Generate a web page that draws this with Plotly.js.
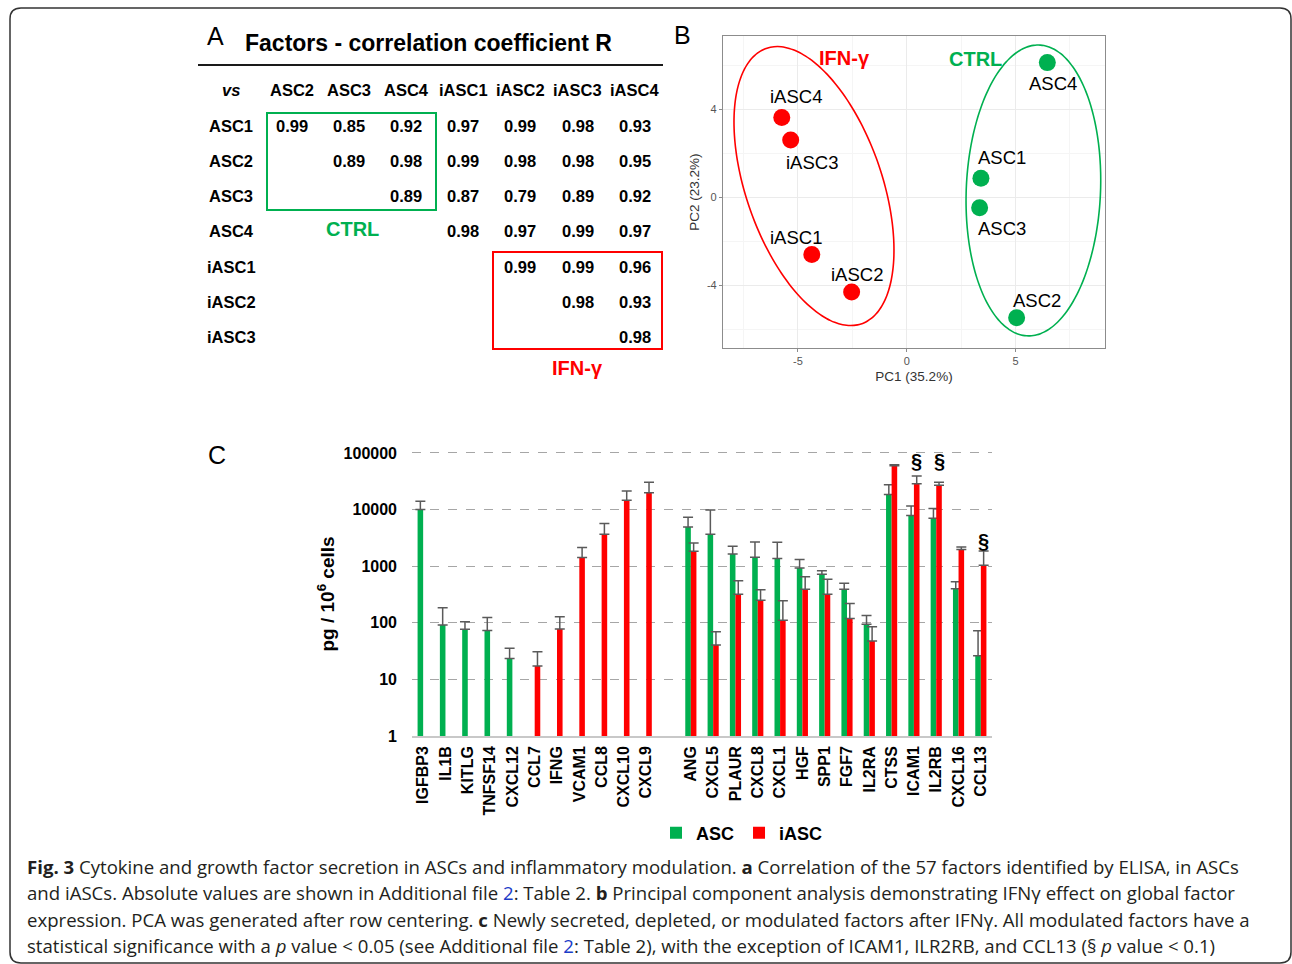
<!DOCTYPE html>
<html>
<head>
<meta charset="utf-8">
<script src="https://cdn.plot.ly/plotly-3.0.1.min.js"></script>
<style>html,body{margin:0;padding:0;background:#fff;}#chart{width:1292px;height:964px;}</style>
</head>
<body>
<div id="chart"></div>
<script>
// ---------------- DATA ----------------
// Panel C: secreted factors (pg / 10^6 cells)
const group1 = ['IGFBP3','IL1B','KITLG','TNFSF14','CXCL12','CCL7','IFNG','VCAM1','CCL8','CXCL10','CXCL9'];
const group2 = ['ANG','CXCL5','PLAUR','CXCL8','CXCL1','HGF','SPP1','FGF7','IL2RA','CTSS','ICAM1','IL2RB','CXCL16','CCL13'];
const spacer = ' ';
const ascG1  = [10000, 91, 77, 73, 23.5, null, null, null, null, null, null];
const ascG1Err = [4000, 93, 27, 51, 12, null, null, null, null, null, null];
const iascG1 = [null, null, null, null, null, 17.2, 78, 1420, 3670, 14600, 19900];
const iascG1Err = [null, null, null, null, null, 13.6, 50, 710, 1990, 6700, 10400];
const ascG2  = [4950, 3670, 1650, 1440, 1370, 934, 722, 393, 94, 18400, 7840, 7030, 398, 26.2];
const ascG2Err = [2380, 6190, 605, 1245, 1290, 378, 105, 108, 41, 9200, 3760, 3390, 131, 46];
const iascG2 = [1840, 40.4, 320, 251, 111, 393, 320, 119, 47.5, 59700, 28750, 26870, 1968, 1042];
const iascG2Err = [740, 29, 231, 131, 134, 256, 270, 100, 37.5, 2500, 10550, 3500, 227, 823];
const sigFactors = ['ICAM1', 'IL2RB', 'CCL13'];
const sigLogY = [4.86, 4.86, 3.445];
const yTickVals = [1, 10, 100, 1000, 10000, 100000];
const yTickText = ['1', '10', '100', '1000', '10000', '100000'];

// Panel B: PCA
const pcaCtrlNames = ['ASC1', 'ASC2', 'ASC3', 'ASC4'];
const pcaCtrlPC1 = [3.41, 5.05, 3.35, 6.46];
const pcaCtrlPC2 = [0.86, -5.49, -0.49, 6.11];
const pcaIfnNames = ['iASC1', 'iASC2', 'iASC3', 'iASC4'];
const pcaIfnPC1 = [-4.36, -2.53, -5.33, -5.74];
const pcaIfnPC2 = [-2.61, -4.32, 2.59, 3.62];
// Ellipse parameters (centre, half-width, half-height, phase)
const ellIfn  = {cx: -4.26, cy: 0.50, rx: 3.675, ry: 6.34, cosPhi: -0.459};
const ellCtrl = {cx: 5.82,  cy: 0.30, rx: 3.094, ry: 6.61, cosPhi: 0.071};

// Panel A: correlation table
const corrRows = ['ASC1', 'ASC2', 'ASC3', 'ASC4', 'iASC1', 'iASC2', 'iASC3'];
const corrCols = ['ASC2', 'ASC3', 'ASC4', 'iASC1', 'iASC2', 'iASC3', 'iASC4'];
const corrVals = [
  ['0.99', '0.85', '0.92', '0.97', '0.99', '0.98', '0.93'],
  [null,   '0.89', '0.98', '0.99', '0.98', '0.98', '0.95'],
  [null,   null,   '0.89', '0.87', '0.79', '0.89', '0.92'],
  [null,   null,   null,   '0.98', '0.97', '0.99', '0.97'],
  [null,   null,   null,   null,   '0.99', '0.99', '0.96'],
  [null,   null,   null,   null,   null,   '0.98', '0.93'],
  [null,   null,   null,   null,   null,   null,   '0.98']
];

const captionLines = [
  '<b>Fig. 3</b> Cytokine and growth factor secretion in ASCs and inflammatory modulation. <b>a</b> Correlation of the 57 factors identified by ELISA, in ASCs',
  'and iASCs. Absolute values are shown in Additional file <span style="color:#1a3cc8">2</span>: Table 2. <b>b</b> Principal component analysis demonstrating IFNγ effect on global factor',
  'expression. PCA was generated after row centering. <b>c</b> Newly secreted, depleted, or modulated factors after IFNγ. All modulated factors have a',
  'statistical significance with a <i>p</i> value &lt; 0.05 (see Additional file <span style="color:#1a3cc8">2</span>: Table 2), with the exception of ICAM1, ILR2RB, and CCL13 (§ <i>p</i> value &lt; 0.1)'
];

// ---------------- LAYOUT HELPERS ----------------
const W = 1292, H = 964;
const PX = x => x / W;
const PY = y => 1 - y / H;
const GREEN = '#00B050', RED = '#FF0000';
const FONT = 'Liberation Sans, Arial, Helvetica, sans-serif';

const categories = group1.concat([spacer], group2);
const ascVals = ascG1.concat([null], ascG2);
const ascErr = ascG1Err.concat([null], ascG2Err);
const iascVals = iascG1.concat([null], iascG2);
const iascErr = iascG1Err.concat([null], iascG2Err);

const errStyle = {color: '#5a5a5a', thickness: 1.5, width: 5};

const traces = [
  {type: 'bar', name: 'ASC', x: categories, y: ascVals, marker: {color: GREEN},
   error_y: Object.assign({type: 'data', array: ascErr, arrayminus: ascErr.map(() => 0), symmetric: false}, errStyle),
   xaxis: 'x', yaxis: 'y', hoverinfo: 'x+y'},
  {type: 'bar', name: 'iASC', x: categories, y: iascVals, marker: {color: RED},
   error_y: Object.assign({type: 'data', array: iascErr, arrayminus: iascErr.map(() => 0), symmetric: false}, errStyle),
   xaxis: 'x', yaxis: 'y', hoverinfo: 'x+y'}
];

function ellipseTrace(e, color) {
  const xs = [], ys = [];
  const phi = Math.acos(e.cosPhi);
  for (let i = 0; i <= 120; i++) {
    const t = 2 * Math.PI * i / 120;
    xs.push(e.cx + e.rx * Math.cos(t));
    ys.push(e.cy + e.ry * Math.cos(t + phi));
  }
  return {type: 'scatter', mode: 'lines', x: xs, y: ys, line: {color: color, width: 1.6, shape: 'spline'},
          xaxis: 'x2', yaxis: 'y2', showlegend: false, hoverinfo: 'skip'};
}
traces.push(ellipseTrace(ellIfn, RED));
traces.push(ellipseTrace(ellCtrl, GREEN));
traces.push({type: 'scatter', mode: 'markers', x: pcaIfnPC1, y: pcaIfnPC2, text: pcaIfnNames,
  marker: {color: RED, size: 17}, xaxis: 'x2', yaxis: 'y2', showlegend: false, hoverinfo: 'text'});
traces.push({type: 'scatter', mode: 'markers', x: pcaCtrlPC1, y: pcaCtrlPC2, text: pcaCtrlNames,
  marker: {color: GREEN, size: 17}, xaxis: 'x2', yaxis: 'y2', showlegend: false, hoverinfo: 'text'});

const annotations = [];
const shapes = [];

// Panel letters
[['A', 216, 36], ['B', 682, 35], ['C', 217, 455]].forEach(([t, x, y]) => {
  annotations.push({text: t, x: PX(x), y: PY(y), xref: 'paper', yref: 'paper', showarrow: false,
    xanchor: 'center', yanchor: 'middle', font: {family: FONT, size: 25, color: '#000'}});
});

// Panel A table
annotations.push({text: '<b>Factors - correlation coefficient R</b>', x: PX(243), y: PY(43), xref: 'paper', yref: 'paper',
  showarrow: false, xanchor: 'left', yanchor: 'middle', font: {family: FONT, size: 23, color: '#000'}});
shapes.push({type: 'line', xref: 'paper', yref: 'paper', x0: PX(198), x1: PX(663), y0: PY(65), y1: PY(65),
  line: {color: '#1a1a1a', width: 2}});
const colX0 = 292, colStep = 57.1, headerY = 90, rowY0 = 126, rowStep = 35.15, labelX = 231;
const tblFont = {family: FONT, size: 16.5, color: '#000', weight: 'bold'};
annotations.push({text: '<b><i>vs</i></b>', x: PX(labelX), y: PY(headerY), xref: 'paper', yref: 'paper', showarrow: false,
  xanchor: 'center', yanchor: 'middle', font: tblFont});
corrCols.forEach((c, j) => annotations.push({text: c, x: PX(colX0 + j * colStep), y: PY(headerY), xref: 'paper', yref: 'paper',
  showarrow: false, xanchor: 'center', yanchor: 'middle', font: tblFont}));
corrRows.forEach((r, i) => {
  annotations.push({text: r, x: PX(labelX), y: PY(rowY0 + i * rowStep), xref: 'paper', yref: 'paper',
    showarrow: false, xanchor: 'center', yanchor: 'middle', font: tblFont});
  corrVals[i].forEach((v, j) => {
    if (v === null) return;
    annotations.push({text: v, x: PX(colX0 + j * colStep), y: PY(rowY0 + i * rowStep), xref: 'paper', yref: 'paper',
      showarrow: false, xanchor: 'center', yanchor: 'middle', font: tblFont});
  });
});
shapes.push({type: 'rect', xref: 'paper', yref: 'paper', x0: PX(267), x1: PX(436), y0: PY(113), y1: PY(210),
  line: {color: GREEN, width: 2}});
shapes.push({type: 'rect', xref: 'paper', yref: 'paper', x0: PX(493), x1: PX(662), y0: PY(252), y1: PY(349),
  line: {color: RED, width: 2}});
annotations.push({text: '<b>CTRL</b>', x: PX(352), y: PY(229), xref: 'paper', yref: 'paper', showarrow: false,
  xanchor: 'center', yanchor: 'middle', font: {family: FONT, size: 20, color: GREEN}});
annotations.push({text: '<b>IFN-γ</b>', x: PX(577), y: PY(368), xref: 'paper', yref: 'paper', showarrow: false,
  xanchor: 'center', yanchor: 'middle', font: {family: FONT, size: 20, color: RED}});

// Panel B labels
const labelShift = {
  'iASC4': [14, 21], 'iASC3': [21, -22], 'iASC1': [-16, 17], 'iASC2': [5, 18],
  'ASC4': [6, -21], 'ASC1': [21, 21], 'ASC3': [22, -21], 'ASC2': [20, 17]
};
function addPcaLabels(names, xs, ys) {
  names.forEach((n, i) => annotations.push({text: n, x: xs[i], y: ys[i], xref: 'x2', yref: 'y2', showarrow: false,
    xshift: labelShift[n][0], yshift: labelShift[n][1], xanchor: 'center', yanchor: 'middle',
    font: {family: FONT, size: 18.5, color: '#000'}}));
}
addPcaLabels(pcaIfnNames, pcaIfnPC1, pcaIfnPC2);
addPcaLabels(pcaCtrlNames, pcaCtrlPC1, pcaCtrlPC2);
annotations.push({text: '<b>IFN-γ</b>', x: -2.88, y: 6.32, xref: 'x2', yref: 'y2', showarrow: false,
  xanchor: 'center', yanchor: 'middle', font: {family: FONT, size: 20, color: RED}});
annotations.push({text: '<b>CTRL</b>', x: 3.14, y: 6.27, xref: 'x2', yref: 'y2', showarrow: false,
  xanchor: 'center', yanchor: 'middle', font: {family: FONT, size: 20, color: GREEN}});

// Panel C significance markers
sigFactors.forEach((f, i) => annotations.push({text: '<b>§</b>', x: f, y: sigLogY[i], xref: 'x', yref: 'y',
  xshift: 3, showarrow: false, xanchor: 'center', yanchor: 'middle', font: {family: FONT, size: 20, color: '#000'}}));

// Caption
const capY = [866, 892.5, 919, 945.5];
captionLines.forEach((t, i) => annotations.push({text: t, x: PX(25), y: PY(capY[i]), xref: 'paper', yref: 'paper',
  showarrow: false, xanchor: 'left', yanchor: 'middle', align: 'left',
  font: {family: 'Open Sans, sans-serif', size: 18.6, color: '#231f20'}}));

// Rounded border
(function () {
  const x0 = 10, y0 = 8, x1 = 1291, y1 = 963, r = 11;
  const P = (x, y) => PX(x).toFixed(5) + ',' + PY(y).toFixed(5);
  const path = 'M' + P(x0 + r, y0) + ' L' + P(x1 - r, y0) + ' Q' + P(x1, y0) + ' ' + P(x1, y0 + r) +
    ' L' + P(x1, y1 - r) + ' Q' + P(x1, y1) + ' ' + P(x1 - r, y1) +
    ' L' + P(x0 + r, y1) + ' Q' + P(x0, y1) + ' ' + P(x0, y1 - r) +
    ' L' + P(x0, y0 + r) + ' Q' + P(x0, y0) + ' ' + P(x0 + r, y0) + ' Z';
  shapes.push({type: 'path', xref: 'paper', yref: 'paper', path: path, line: {color: '#333', width: 1.5}});
})();

const yTop = 5.02;
const layout = {
  width: W, height: H,
  margin: {l: 0, r: 0, t: 0, b: 0, pad: 0},
  paper_bgcolor: '#fff', plot_bgcolor: 'rgba(0,0,0,0)',
  font: {family: FONT, color: '#000'},
  barmode: 'group', bargap: 0.5, bargroupgap: 0,
  showlegend: true,
  legend: {orientation: 'h', x: PX(742), y: PY(833), xanchor: 'center', yanchor: 'middle',
    font: {family: FONT, size: 18, color: '#000', weight: 'bold'}, itemwidth: 30,
    bgcolor: 'rgba(0,0,0,0)', traceorder: 'normal'},
  xaxis: {domain: [PX(412), PX(992)], anchor: 'y', type: 'category', categoryorder: 'array', categoryarray: categories,
    range: [-0.5, categories.length - 0.5], tickangle: -90, ticks: '', ticklabelstandoff: 2,
    tickfont: {family: FONT, size: 16, color: '#000', weight: 'bold'},
    showline: true, linecolor: '#c8c8c8', linewidth: 1.5, showgrid: false, zeroline: false, fixedrange: true, automargin: false},
  yaxis: {domain: [PY(736), PY(453 - (yTop - 5) * 56.6)], anchor: 'x', type: 'log', range: [0, yTop],
    tickvals: yTickVals, ticktext: yTickText, ticks: '', ticklabelstandoff: 14,
    tickfont: {family: FONT, size: 16, color: '#000', weight: 'bold'},
    showgrid: true, gridcolor: '#a6a6a6', griddash: 'dash', gridwidth: 1, zeroline: false, showline: false,
    title: {text: '<b>pg / 10<sup>6</sup> cells</b>', font: {family: FONT, size: 19, color: '#000'}, standoff: 3},
    fixedrange: true, automargin: false},
  xaxis2: {domain: [PX(723), PX(1105)], anchor: 'y2', range: [-8.44, 9.11], tickvals: [-5, 0, 5], ticktext: ['-5', '0', '5'],
    showgrid: true, gridcolor: '#ebebeb', gridwidth: 1, zeroline: false,
    minor: {tickvals: [-7.5, -2.5, 2.5, 7.5], showgrid: true, gridcolor: '#f5f5f5', gridwidth: 0.8, ticks: ''},
    showline: true, mirror: true, linecolor: '#8c8c8c', linewidth: 1.2, ticks: 'outside', ticklen: 3, tickcolor: '#8c8c8c',
    tickfont: {family: FONT, size: 11, color: '#555'},
    title: {text: 'PC1 (35.2%)', font: {family: FONT, size: 13.5, color: '#333'}, standoff: 5},
    fixedrange: true, automargin: false},
  yaxis2: {domain: [PY(348), PY(36)], anchor: 'x2', range: [-6.86, 7.32], tickvals: [-4, 0, 4], ticktext: ['-4', '0', '4'],
    showgrid: true, gridcolor: '#ebebeb', gridwidth: 1, zeroline: false,
    minor: {tickvals: [-6, -2, 2, 6], showgrid: true, gridcolor: '#f5f5f5', gridwidth: 0.8, ticks: ''},
    showline: true, mirror: true, linecolor: '#8c8c8c', linewidth: 1.2, ticks: 'outside', ticklen: 3, tickcolor: '#8c8c8c',
    tickfont: {family: FONT, size: 11, color: '#555'},
    title: {text: 'PC2 (23.2%)', font: {family: FONT, size: 13.5, color: '#333'}, standoff: 4},
    fixedrange: true, automargin: false},
  annotations: annotations,
  shapes: shapes
};

Plotly.newPlot('chart', traces, layout, {displayModeBar: false, staticPlot: false});
</script>
</body>
</html>
